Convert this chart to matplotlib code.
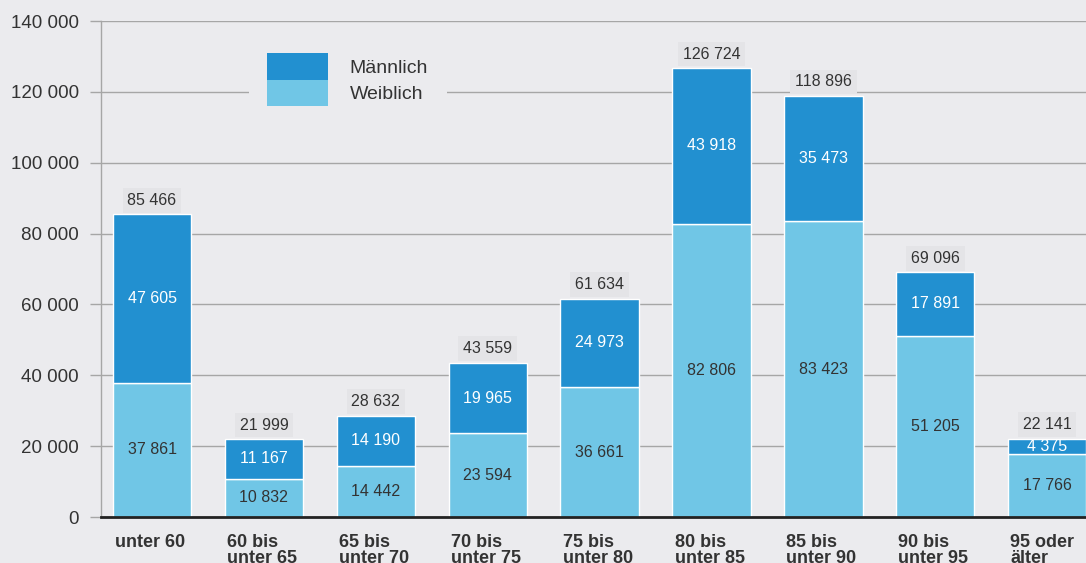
import numpy as np
import matplotlib.pyplot as plt
from matplotlib.ticker import FuncFormatter

# Altersgruppen und Werte
categories = ["unter 60", "60 bis\nunter 65", "65 bis\nunter 70", "70 bis\nunter 75",
              "75 bis\nunter 80", "80 bis\nunter 85", "85 bis\nunter 90",
              "90 bis\nunter 95", "95 oder\nälter"]
weiblich = [37861, 10832, 14442, 23594, 36661, 82806, 83423, 51205, 17766]
maennlich = [47605, 11167, 14190, 19965, 24973, 43918, 35473, 17891, 4375]

bg = "#EBEBEE"
c_dark = "#2290D0"
c_light = "#70C6E6"
txt = "#333333"


def fmt(v):
    return f"{int(v):,}".replace(",", " ")


plt.rcParams['font.family'] = ['Liberation Sans', 'DejaVu Sans']

fig = plt.figure(figsize=(10.86, 5.63), dpi=100, facecolor=bg)
ax = fig.add_axes([101 / 1086, 1 - 517 / 563, 985 / 1086, 496 / 563])
ax.set_facecolor(bg)

x = np.arange(len(categories))
w = 0.70
w_arr = np.array(weiblich)
m_arr = np.array(maennlich)
tot = w_arr + m_arr

b1 = ax.bar(x, w_arr, w, color=c_light, edgecolor="white", linewidth=1, label="Weiblich", zorder=3)
b2 = ax.bar(x, m_arr, w, bottom=w_arr, color=c_dark, edgecolor="white", linewidth=1,
            label="Männlich", zorder=3)

# Werte in den Segmenten und Summen oben
for i in range(len(x)):
    ax.text(x[i], w_arr[i] / 2, fmt(w_arr[i]), ha="center", va="center",
            fontsize=11.5, color=txt, zorder=4)
    ax.text(x[i], w_arr[i] + m_arr[i] / 2, fmt(m_arr[i]), ha="center", va="center",
            fontsize=11.5, color="white", zorder=4)
    ax.annotate(fmt(tot[i]), (x[i], tot[i]), xytext=(0, 10), textcoords="offset points",
                ha="center", va="center", fontsize=11.5, color=txt, zorder=4,
                bbox=dict(boxstyle="square,pad=0.3", facecolor="#E4E4E7", edgecolor="none"))

ax.set_ylim(0, 140000)
ax.set_xlim(-0.456, 8.347)
ax.set_yticks(np.arange(0, 140001, 20000))
ax.yaxis.set_major_formatter(FuncFormatter(lambda v, p: fmt(v)))
ax.grid(axis="y", color="#A6A6A6", linewidth=1, zorder=0)
ax.set_axisbelow(True)
ax.tick_params(axis="y", length=8, color="#A6A6A6", width=1, pad=8, labelsize=13.5, labelcolor=txt)

ax.set_xticks(x - w / 2 + 0.02)
ax.set_xticklabels(categories, ha="left", fontweight="bold", fontsize=13, color=txt,
                   linespacing=0.95)
ax.tick_params(axis="x", length=0, pad=12)

for s in ["top", "right"]:
    ax.spines[s].set_visible(False)
ax.spines["left"].set_color("#A6A6A6")
ax.spines["left"].set_linewidth(1)
ax.spines["bottom"].set_color("#222222")
ax.spines["bottom"].set_linewidth(2)
ax.spines["bottom"].set_zorder(5)

leg = ax.legend(handles=[b2, b1], loc="upper left", bbox_to_anchor=(0.150, 0.972),
                fontsize=14, frameon=True, facecolor=bg, edgecolor="none", framealpha=1,
                fancybox=False, borderpad=0.95, labelspacing=0, handleheight=1.72,
                handlelength=3.1, handletextpad=1.15, borderaxespad=0)
for t in leg.get_texts():
    t.set_color(txt)
for h in leg.legend_handles:
    h.set_edgecolor("none")

fig.savefig("out.png", dpi=100, facecolor=bg)
